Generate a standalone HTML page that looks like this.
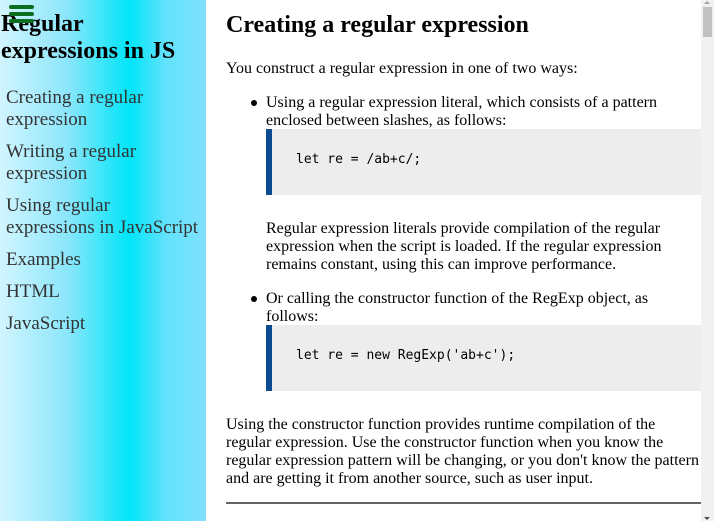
<!DOCTYPE html>
<html><head><meta charset="utf-8"><style>
*{margin:0;padding:0;box-sizing:border-box}
html,body{width:714px;height:521px;overflow:hidden;background:#fff;font-family:"Liberation Serif",serif;color:#000}
.sb{position:absolute;left:0;top:0;width:206px;height:521px;background:linear-gradient(to right,#d2f5ff 0%,#8ae6fb 33%,#00e5f8 63%,#60e2fc 80%,#80e0fc 100%)}
.a{position:absolute;white-space:nowrap}
.t{font-weight:bold;font-size:24px;left:1px}
.l{font-size:19px;color:#333;left:6px}
.p{font-size:16px}
.h{font-weight:bold;font-size:24px;left:226px}
.code{position:absolute;left:266px;width:435px;background:#ededed;border-left:6px solid #0a4a8f}
.code span{position:absolute;left:24px;font-family:"DejaVu Sans Mono","Liberation Mono",monospace;font-size:13px;white-space:pre}
.bar{position:absolute;left:9px;width:25px;height:4px;background:#0a6e1e;border-radius:2px}
.dot{position:absolute;left:251px;width:6px;height:6px;border-radius:50%;background:#000}
</style></head><body>
<div class="sb"></div>
<div class="a t" style="top:11px">Regular</div>
<div class="a t" style="top:38px">expressions in JS</div>
<div class="bar" style="top:5px"></div><div class="bar" style="top:12px"></div><div class="bar" style="top:19px"></div>
<div class="a l" style="top:87px">Creating a regular</div>
<div class="a l" style="top:109px">expression</div>
<div class="a l" style="top:141px">Writing a regular</div>
<div class="a l" style="top:163px">expression</div>
<div class="a l" style="top:195px">Using regular</div>
<div class="a l" style="top:217px">expressions in JavaScript</div>
<div class="a l" style="top:249px">Examples</div>
<div class="a l" style="top:281px">HTML</div>
<div class="a l" style="top:313px">JavaScript</div>

<div class="a h" style="top:12px">Creating a regular expression</div>
<div class="a p" style="left:226px;top:60px">You construct a regular expression in one of two ways:</div>
<div class="dot" style="top:100px"></div>
<div class="a p" style="left:266px;top:94px">Using a regular expression literal, which consists of a pattern</div>
<div class="a p" style="left:266px;top:112px">enclosed between slashes, as follows:</div>
<div class="code" style="top:129px;height:66px"><span style="top:23px">let re = /ab+c/;</span></div>
<div class="a p" style="left:266px;top:220px">Regular expression literals provide compilation of the regular</div>
<div class="a p" style="left:266px;top:238px">expression when the script is loaded. If the regular expression</div>
<div class="a p" style="left:266px;top:256px">remains constant, using this can improve performance.</div>
<div class="dot" style="top:296px"></div>
<div class="a p" style="left:266px;top:290px">Or calling the constructor function of the RegExp object, as</div>
<div class="a p" style="left:266px;top:308px">follows:</div>
<div class="code" style="top:325px;height:66px"><span style="top:23px">let re = new RegExp('ab+c');</span></div>
<div class="a p" style="left:226px;top:416px">Using the constructor function provides runtime compilation of the</div>
<div class="a p" style="left:226px;top:434px">regular expression. Use the constructor function when you know the</div>
<div class="a p" style="left:226px;top:452px">regular expression pattern will be changing, or you don't know the pattern</div>
<div class="a p" style="left:226px;top:470px">and are getting it from another source, such as user input.</div>
<div style="position:absolute;left:226px;top:502px;width:475px;height:2px;background:#666"></div>

<div style="position:absolute;left:701px;top:0;width:13px;height:521px;background:#f1f1f1"></div>
<div style="position:absolute;left:703px;top:7px;width:9px;height:30px;background:#c1c1c1"></div>
<div style="position:absolute;left:704px;top:1px;width:0;height:0;border-left:3px solid transparent;border-right:3px solid transparent;border-bottom:3px solid #a3a3a3"></div>
<div style="position:absolute;left:704px;top:517px;width:0;height:0;border-left:3px solid transparent;border-right:3px solid transparent;border-top:3px solid #505050"></div>
</body></html>
